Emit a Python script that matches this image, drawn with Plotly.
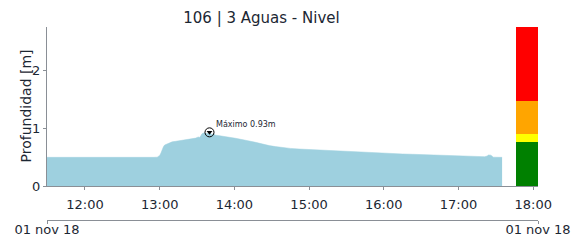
import plotly.graph_objects as go
import pandas as pd
import numpy as np

DAY = "2018-11-01 "
times = ["11:29", "11:35", "11:40", "11:45", "11:50", "11:55", "12:00", "12:05", "12:10", "12:15",
         "12:20", "12:25", "12:30", "12:35", "12:40", "12:45", "12:50", "12:55", "12:58", "13:00",
         "13:01", "13:02", "13:03", "13:04", "13:06", "13:08", "13:10", "13:13", "13:16", "13:20",
         "13:23", "13:26", "13:29", "13:31", "13:32", "13:33", "13:34", "13:35", "13:36", "13:37",
         "13:38", "13:39", "13:40", "13:41", "13:42", "13:43", "13:44", "13:45", "13:47", "13:49",
         "13:51", "13:53", "13:56", "13:58", "14:01", "14:05", "14:09", "14:13", "14:17", "14:20",
         "14:24", "14:28", "14:33", "14:38", "14:45", "14:52", "15:00", "15:05", "15:12", "15:19",
         "15:25", "15:32", "15:40", "15:47", "15:54", "16:05", "16:15", "16:23", "16:35", "16:50",
         "17:00", "17:10", "17:17", "17:21", "17:23", "17:24", "17:26", "17:27", "17:28", "17:34",
         "17:35"]
depth = [0.497, 0.496, 0.497, 0.496, 0.495, 0.496, 0.495, 0.496, 0.494, 0.495,
         0.494, 0.495, 0.493, 0.494, 0.493, 0.494, 0.495, 0.497, 0.50, 0.53,
         0.57, 0.63, 0.68, 0.71, 0.73, 0.755, 0.765, 0.775, 0.785, 0.795,
         0.81, 0.815, 0.83, 0.85, 0.84, 0.87, 0.905, 0.915, 0.925, 0.905,
         0.915, 0.90, 0.93, 0.912, 0.89, 0.905, 0.885, 0.88, 0.875, 0.87,
         0.86, 0.855, 0.845, 0.84, 0.827, 0.81, 0.797, 0.775, 0.757, 0.74,
         0.72, 0.70, 0.683, 0.667, 0.652, 0.641, 0.632, 0.624, 0.618, 0.612,
         0.603, 0.594, 0.585, 0.575, 0.567, 0.562, 0.555, 0.55, 0.54, 0.525,
         0.518, 0.512, 0.508, 0.508, 0.52, 0.537, 0.535, 0.52, 0.50, 0.497,
         0.497]

# threshold bands (green, yellow, orange, red)
band_bottoms = [0.0, 0.76, 0.9, 1.47]
band_tops = [0.76, 0.9, 1.47, 2.756]
band_colors = ["#008000", "#ffff00", "#ffa500", "#ff0000"]
band_time = "17:54:50"
band_minutes = 18

x_range = ["11:29:30", "18:03:50"]
hour_ticks = ["12:00", "13:00", "14:00", "15:00", "16:00", "17:00", "18:00"]
date_label = "01 nov 18"
title = "106 | 3 Aguas - Nivel"
y_title = "Profundidad [m]"

t = pd.to_datetime([DAY + s for s in times])
d = np.array(depth)
imax = int(np.argmax(d))

FONT = "DejaVu Sans"
TXT = "#1c2733"
AX = "#8a8f96"

fig = go.Figure()
fig.add_trace(go.Scatter(x=t, y=d, mode="lines", fill="tozeroy",
                         line=dict(color="#9ed0df", width=0.5), fillcolor="#9ed0df",
                         hoverinfo="skip", showlegend=False))
bx = pd.to_datetime(DAY + band_time)
for b0, b1, c in zip(band_bottoms, band_tops, band_colors):
    fig.add_trace(go.Bar(x=[bx], y=[b1 - b0], base=[b0], width=band_minutes * 60 * 1000,
                         marker=dict(color=c, line=dict(width=0)), showlegend=False,
                         hoverinfo="skip"))
fig.add_trace(go.Scatter(x=[t[imax]], y=[d[imax]], mode="markers",
                         marker=dict(symbol="circle-open", size=9, color="black",
                                     line=dict(width=1, color="black")),
                         showlegend=False, hoverinfo="skip"))
fig.add_trace(go.Scatter(x=[t[imax]], y=[d[imax]], mode="markers",
                         marker=dict(symbol="triangle-down", size=5, color="black"),
                         showlegend=False, hoverinfo="skip"))
xr = pd.to_datetime([DAY + s for s in x_range])
fig.add_trace(go.Scatter(x=xr, y=[None, None], xaxis="x2", yaxis="y", mode="markers",
                         showlegend=False, hoverinfo="skip"))

fig.add_annotation(x=t[imax], y=d[imax], text=f"Máximo {d[imax]:.2f}m", showarrow=False,
                   xanchor="left", yanchor="middle", xshift=5, yshift=8,
                   font=dict(family=FONT, size=8, color=TXT))
fig.add_annotation(x=0, y=(220 - 106.5) / 193, xref="paper", yref="paper", text=y_title,
                   textangle=-90, showarrow=False, xanchor="center", yanchor="middle",
                   xshift=-22, font=dict(family=FONT, size=14, color=TXT))

fig.update_layout(
    width=585, height=242,
    margin=dict(l=47, r=47, t=27, b=22, autoexpand=False),
    plot_bgcolor="white", paper_bgcolor="white",
    barmode="overlay", bargap=0,
    font=dict(family=FONT, size=13, color=TXT),
    title=dict(text=title, x=261.5 / 585, xref="container", xanchor="center",
               y=1 - 18 / 242, yref="container", yanchor="middle", automargin=False,
               font=dict(family=FONT, size=15, color=TXT)),
    xaxis=dict(range=xr, tickvals=pd.to_datetime([DAY + s for s in hour_ticks]),
               tickformat="%H:%M", showgrid=False, zeroline=False, automargin=False,
               showline=True, linecolor=AX, linewidth=1, ticks="outside",
               ticklen=3, tickcolor=AX, ticklabelstandoff=3,
               tickfont=dict(family=FONT, size=13, color=TXT)),
    xaxis2=dict(range=xr, overlaying="x", anchor="free", position=0, side="bottom",
                tickvals=xr, ticktext=[date_label, date_label], showgrid=False,
                zeroline=False, showline=True, linecolor=AX, linewidth=1, automargin=False,
                ticks="outside", ticklen=3, tickcolor=AX, ticklabelstandoff=-6,
                tickfont=dict(family=FONT, size=13, color=TXT)),
    yaxis=dict(domain=[34 / 193, 1], range=[0, band_tops[-1]], tickvals=[0, 1, 2],
               showgrid=False, zeroline=False, showline=True, linecolor=AX, automargin=False,
               linewidth=1, ticks="outside", ticklen=3, tickcolor=AX,
               tickfont=dict(family=FONT, size=13, color=TXT)),
)

fig.write_html("out.html", config={"displayModeBar": False},
               post_script="document.body.style.margin='0px';document.body.style.overflow='hidden';")
